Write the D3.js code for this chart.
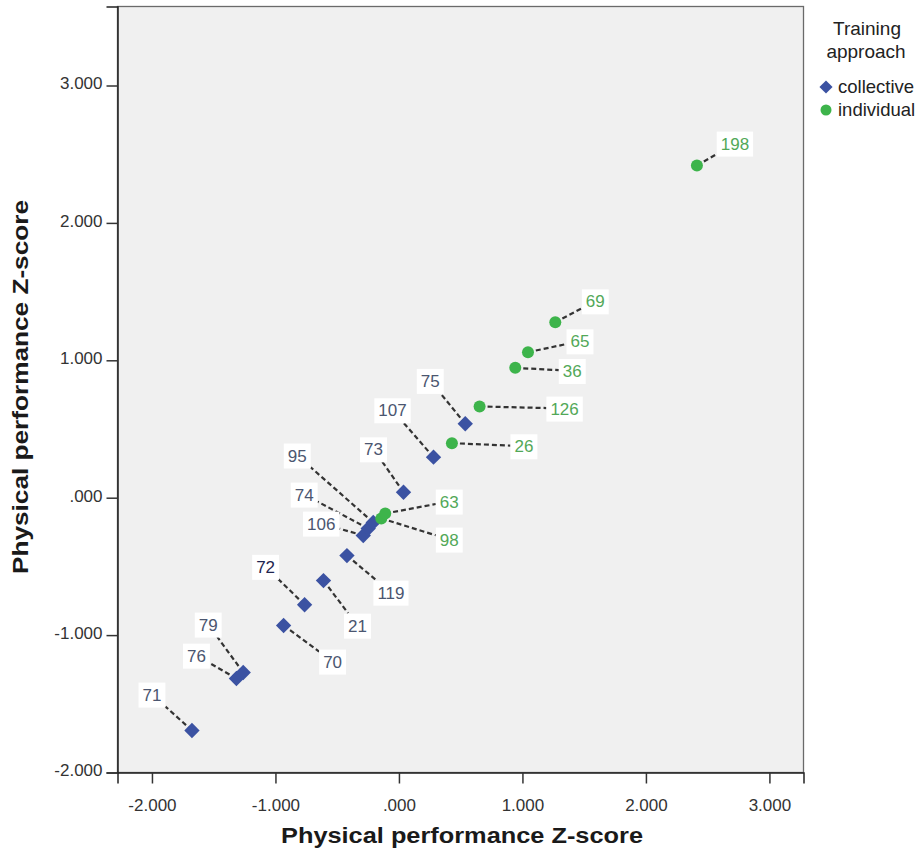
<!DOCTYPE html>
<html>
<head>
<meta charset="utf-8">
<script src="https://cdn.jsdelivr.net/npm/d3@7"></script>
<style>
  body { margin: 0; background: #fff; }
  text { font-family: "Liberation Sans", Arial, sans-serif; }
</style>
</head>
<body>
<script>
// case ids, training group and z-scores
const ids    = [71, 76, 79, 70, 72, 21, 119, 106, 74, 95, 73, 107, 75,
                98, 63, 26, 126, 36, 65, 69, 198]
const groups = ["collective","collective","collective","collective","collective","collective","collective",
                "collective","collective","collective","collective","collective","collective",
                "individual","individual","individual","individual","individual","individual","individual","individual"]
const xVals  = [-1.676, -1.316, -1.261, -0.934, -0.764, -0.611, -0.421, -0.289, -0.249, -0.208, 0.037, 0.280, 0.537,
                -0.143, -0.111, 0.429, 0.653, 0.942, 1.045, 1.266, 2.413]
const yVals  = [-1.694, -1.316, -1.272, -0.930, -0.779, -0.603, -0.421, -0.275, -0.224, -0.180, 0.040, 0.295, 0.538,
                -0.151, -0.115, 0.397, 0.664, 0.945, 1.059, 1.277, 2.418]
const tickVals = [-2, -1, 0, 1, 2, 3]
const legendNames = ["collective", "individual"]

// where each case label sits, in px from its marker (layout, not data)
const labelOffsets = {
  71: [-40, -36], 76: [-40, -23], 79: [-35, -48], 70: [49, 36], 72: [-39, -38],
  21: [34, 45], 119: [44, 37], 106: [-42, -12], 74: [-64, -34], 95: [-76, -67],
  73: [-30, -43], 107: [-41, -47], 75: [-35, -43],
  98: [68, 21], 63: [64, -12], 26: [72, 3], 126: [85, 2], 36: [57, 3],
  65: [52, -11], 69: [40, -21], 198: [38, -22]
}

const W = 920, H = 852
const plot = {left: 117.5, right: 803.5, top: 6.5, bottom: 772.5}

const markColor  = {collective: "#3b52a2", individual: "#3db44b"}
const labelColor = {collective: "#4b5670", individual: "#52a858"}

const pts = ids.map((id, i) => ({id: id, g: groups[i], x: xVals[i], y: yVals[i]}))

const svg = d3.select("body").append("svg")
  .attr("width", W).attr("height", H)

let x = d3.scaleLinear().domain([-2.279, 3.276]).range([plot.left, plot.right])
let y = d3.scaleLinear().domain([-2, 3.575]).range([plot.bottom, plot.top])

// SPSS style: ".000", and a plain hyphen for minus
const fmt = v => v === 0 ? ".000" : d3.format(".3f")(v).replace("\u2212", "-")

// plot area
svg.append("rect")
  .attr("x", plot.left).attr("y", plot.top)
  .attr("width", plot.right - plot.left).attr("height", plot.bottom - plot.top)
  .attr("fill", "#f0f0f0")
  .attr("stroke", "#6a6a6a").attr("stroke-width", 1.3)

// axes
const gx = svg.append("g")
  .attr("transform", "translate(0," + plot.bottom + ")")
  .call(d3.axisBottom(x).tickValues(tickVals).tickFormat(fmt).tickSize(11).tickPadding(15))
const gy = svg.append("g")
  .attr("transform", "translate(" + plot.left + ",0)")
  .call(d3.axisLeft(y).tickValues(tickVals).tickFormat(fmt).tickSize(11).tickPadding(4))

;[gx, gy].forEach(g => {
  g.select(".domain").attr("stroke", "#222").attr("stroke-width", 1.5)
  g.selectAll(".tick line").attr("stroke", "#333").attr("stroke-width", 1.5)
  g.selectAll(".tick text").attr("font-size", 17).attr("fill", "#333")
    .style("font-family", '"Liberation Sans", Arial, sans-serif')
})
gy.selectAll(".tick text").attr("dy", "0.2em")

// axis titles
svg.append("text")
  .attr("x", 462).attr("y", 843)
  .attr("text-anchor", "middle")
  .attr("font-size", 22).attr("font-weight", "bold").attr("fill", "#1a1a1a")
  .attr("textLength", 362).attr("lengthAdjust", "spacingAndGlyphs")
  .text("Physical performance Z-score")
svg.append("text")
  .attr("transform", "translate(28,387) rotate(-90)")
  .attr("text-anchor", "middle")
  .attr("font-size", 22).attr("font-weight", "bold").attr("fill", "#1a1a1a")
  .attr("textLength", 374).attr("lengthAdjust", "spacingAndGlyphs")
  .text("Physical performance Z-score")

// labels: lines first, then boxes
const lines = svg.append("g")
const boxes = svg.append("g")
const marks = svg.append("g")

pts.forEach(d => {
  const px = x(d.x), py = y(d.y)
  const off = labelOffsets[d.id]
  const lx = px + off[0], ly = py + off[1]

  const lab = boxes.append("g")
  const rect = lab.append("rect").attr("fill", "#fff")
  const t = lab.append("text")
    .attr("x", lx).attr("y", ly)
    .attr("text-anchor", "middle").attr("dy", "0.36em")
    .attr("font-size", 17).attr("fill", d.id === 72 ? "#1f2550" : labelColor[d.g])
    .text(d.id)
  const bb = t.node().getBBox()
  const bx0 = bb.x - 4, by0 = bb.y - 3, bw = bb.width + 8, bh = bb.height + 6
  rect.attr("x", bx0).attr("y", by0).attr("width", bw).attr("height", bh)

  // end the leader where it reaches the box edge
  const dx = px - lx, dy = py - ly
  const s = Math.min(Math.abs((bw / 2) / (dx || 1e-6)), Math.abs((bh / 2) / (dy || 1e-6)), 1)
  lines.append("line")
    .attr("x1", px).attr("y1", py)
    .attr("x2", lx + dx * s).attr("y2", ly + dy * s)
    .attr("stroke", "#333").attr("stroke-width", 2.2)
    .attr("stroke-dasharray", "5,3")
})

// markers
const diamond = d3.symbol().type(d3.symbolDiamond2).size(150)
pts.forEach(d => {
  if (d.g === "collective") {
    marks.append("path")
      .attr("d", diamond)
      .attr("transform", "translate(" + x(d.x) + "," + y(d.y) + ")")
      .attr("fill", markColor.collective)
  } else {
    marks.append("circle")
      .attr("cx", x(d.x)).attr("cy", y(d.y)).attr("r", 6)
      .attr("fill", markColor.individual)
  }
})

// legend
const leg = svg.append("g")
leg.append("text").attr("x", 867).attr("y", 35).attr("text-anchor", "middle")
  .attr("font-size", 19).attr("fill", "#222").text("Training")
leg.append("text").attr("x", 866).attr("y", 58).attr("text-anchor", "middle")
  .attr("font-size", 19).attr("fill", "#222").text("approach")
legendNames.forEach((n, i) => {
  const cy = 87 + i * 23
  if (n === "collective") {
    leg.append("path").attr("d", d3.symbol().type(d3.symbolDiamond2).size(110))
      .attr("transform", "translate(826," + cy + ")").attr("fill", markColor.collective)
  } else {
    leg.append("circle").attr("cx", 826).attr("cy", cy).attr("r", 5.5)
      .attr("fill", markColor.individual)
  }
  leg.append("text").attr("x", 838).attr("y", cy).attr("dy", "0.35em")
    .attr("font-size", 18.5).attr("fill", "#222").text(n)
})
</script>
</body>
</html>
